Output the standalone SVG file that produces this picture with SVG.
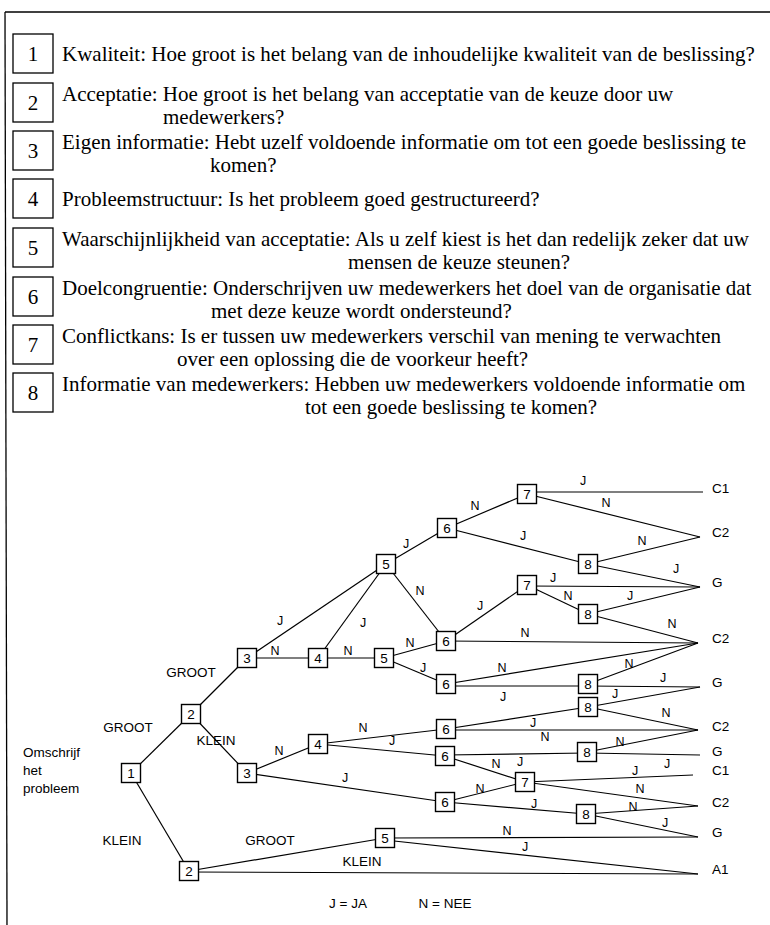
<svg xmlns="http://www.w3.org/2000/svg" width="770" height="925" viewBox="0 0 770 925">
<style>
.frame{stroke:#000;stroke-width:1.3;fill:none}
.qbox{fill:#fff;stroke:#000;stroke-width:1.3}
.qnum{font-family:"Liberation Serif","Times New Roman",serif;font-size:21px;text-anchor:middle;fill:#000}
.q{font-family:"Liberation Serif","Times New Roman",serif;font-size:21px;fill:#000}
.e{stroke:#000;stroke-width:1.2;fill:none}
.nb{fill:#fff;stroke:#000;stroke-width:1.4}
.nn{font-family:"Liberation Sans",Arial,sans-serif;font-size:13.5px;text-anchor:middle;fill:#000}
.lb{font-family:"Liberation Sans",Arial,sans-serif;font-size:12.5px;text-anchor:middle;fill:#000}
.wd{font-family:"Liberation Sans",Arial,sans-serif;font-size:13.5px;text-anchor:middle;fill:#000}
.big{font-family:"Liberation Sans",Arial,sans-serif;font-size:13.5px;fill:#000}
.out{font-family:"Liberation Sans",Arial,sans-serif;font-size:13.5px;fill:#000}
</style>
<rect width="770" height="925" fill="#fff"/>
<g id="frame">
<line class="frame" x1="5" y1="12" x2="770" y2="12"/>
<line class="frame" x1="5" y1="12" x2="7" y2="925"/>
</g>
<g id="questions">
<g id="q1"><rect class="qbox" x="13" y="34" width="40" height="39"/><text class="qnum" x="33" y="61">1</text>
<text class="q" x="62" y="61">Kwaliteit: Hoe groot is het belang van de inhoudelijke kwaliteit van de beslissing?</text></g>
<g id="q2"><rect class="qbox" x="13" y="83" width="40" height="39"/><text class="qnum" x="33" y="110">2</text>
<text class="q" x="62" y="101">Acceptatie: Hoe groot is het belang van acceptatie van de keuze door uw</text>
<text class="q" x="163" y="124">medewerkers?</text></g>
<g id="q3"><rect class="qbox" x="13" y="131" width="40" height="39"/><text class="qnum" x="33" y="158">3</text>
<text class="q" x="62" y="149">Eigen informatie: Hebt uzelf voldoende informatie om tot een goede beslissing te</text>
<text class="q" x="210" y="172">komen?</text></g>
<g id="q4"><rect class="qbox" x="13" y="179" width="40" height="39"/><text class="qnum" x="33" y="206">4</text>
<text class="q" x="62" y="206">Probleemstructuur: Is het probleem goed gestructureerd?</text></g>
<g id="q5"><rect class="qbox" x="13" y="228" width="40" height="39"/><text class="qnum" x="33" y="255">5</text>
<text class="q" x="62" y="246">Waarschijnlijkheid van acceptatie: Als u zelf kiest is het dan redelijk zeker dat uw</text>
<text class="q" x="348" y="269">mensen de keuze steunen?</text></g>
<g id="q6"><rect class="qbox" x="13" y="277" width="40" height="39"/><text class="qnum" x="33" y="304">6</text>
<text class="q" x="62" y="295">Doelcongruentie: Onderschrijven uw medewerkers het doel van de organisatie dat</text>
<text class="q" x="211" y="318">met deze keuze wordt ondersteund?</text></g>
<g id="q7"><rect class="qbox" x="13" y="325" width="40" height="39"/><text class="qnum" x="33" y="352">7</text>
<text class="q" x="62" y="343">Conflictkans: Is er tussen uw medewerkers verschil van mening te verwachten</text>
<text class="q" x="177" y="366">over een oplossing die de voorkeur heeft?</text></g>
<g id="q8"><rect class="qbox" x="13" y="373" width="40" height="39"/><text class="qnum" x="33" y="400">8</text>
<text class="q" x="62" y="391">Informatie van medewerkers: Hebben uw medewerkers voldoende informatie om</text>
<text class="q" x="305" y="414">tot een goede beslissing te komen?</text></g>
</g>
<g id="connectors">
<line class="e" x1="131" y1="773" x2="191" y2="714"/>
<line class="e" x1="131" y1="773" x2="189" y2="871"/>
<line class="e" x1="191" y1="714" x2="247" y2="658"/>
<line class="e" x1="191" y1="714" x2="247" y2="773"/>
<line class="e" x1="247" y1="658" x2="386" y2="564"/>
<line class="e" x1="247" y1="658" x2="318" y2="658"/>
<line class="e" x1="318" y1="658" x2="386" y2="564"/>
<line class="e" x1="318" y1="658" x2="384" y2="658"/>
<line class="e" x1="386" y1="564" x2="447" y2="528"/>
<line class="e" x1="386" y1="564" x2="446" y2="641"/>
<line class="e" x1="384" y1="658" x2="446" y2="641"/>
<line class="e" x1="384" y1="658" x2="446" y2="684"/>
<line class="e" x1="447" y1="528" x2="527" y2="494"/>
<line class="e" x1="447" y1="528" x2="588" y2="564"/>
<line class="e" x1="527" y1="492" x2="703" y2="492"/>
<line class="e" x1="527" y1="494" x2="700" y2="537"/>
<line class="e" x1="588" y1="564" x2="700" y2="537"/>
<line class="e" x1="588" y1="564" x2="700" y2="587"/>
<line class="e" x1="446" y1="641" x2="527" y2="585"/>
<line class="e" x1="446" y1="641" x2="698" y2="643"/>
<line class="e" x1="527" y1="586" x2="700" y2="587"/>
<line class="e" x1="527" y1="585" x2="588" y2="614"/>
<line class="e" x1="588" y1="614" x2="700" y2="587"/>
<line class="e" x1="588" y1="614" x2="698" y2="643"/>
<line class="e" x1="446" y1="684" x2="698" y2="643"/>
<line class="e" x1="446" y1="686" x2="588" y2="686"/>
<line class="e" x1="588" y1="684" x2="698" y2="643"/>
<line class="e" x1="588" y1="686" x2="700" y2="687"/>
<line class="e" x1="247" y1="773" x2="318" y2="744"/>
<line class="e" x1="247" y1="773" x2="445" y2="802"/>
<line class="e" x1="318" y1="744" x2="446" y2="729"/>
<line class="e" x1="318" y1="744" x2="445" y2="756"/>
<line class="e" x1="446" y1="729" x2="588" y2="707"/>
<line class="e" x1="446" y1="730" x2="698" y2="730"/>
<line class="e" x1="588" y1="707" x2="700" y2="687"/>
<line class="e" x1="588" y1="707" x2="698" y2="730"/>
<line class="e" x1="445" y1="755" x2="587" y2="753"/>
<line class="e" x1="445" y1="756" x2="525" y2="782"/>
<line class="e" x1="587" y1="752" x2="698" y2="730"/>
<line class="e" x1="587" y1="753" x2="700" y2="755"/>
<line class="e" x1="525" y1="782" x2="693" y2="775"/>
<line class="e" x1="525" y1="782" x2="698" y2="806"/>
<line class="e" x1="445" y1="802" x2="525" y2="782"/>
<line class="e" x1="445" y1="802" x2="586" y2="814"/>
<line class="e" x1="586" y1="814" x2="698" y2="806"/>
<line class="e" x1="586" y1="814" x2="698" y2="837"/>
<line class="e" x1="189" y1="871" x2="385" y2="838"/>
<line class="e" x1="189" y1="872" x2="698" y2="874"/>
<line class="e" x1="385" y1="838" x2="698" y2="837"/>
<line class="e" x1="385" y1="840" x2="698" y2="874"/>
</g>
<g id="edge-labels">
<text class="wd" x="128" y="732">GROOT</text>
<text class="wd" x="122" y="845">KLEIN</text>
<text class="wd" x="191" y="677">GROOT</text>
<text class="wd" x="216" y="745">KLEIN</text>
<text class="wd" x="270" y="845">GROOT</text>
<text class="wd" x="362" y="866">KLEIN</text>
<text class="lb" x="280" y="625">J</text>
<text class="lb" x="275" y="655">N</text>
<text class="lb" x="363" y="627">J</text>
<text class="lb" x="348" y="655">N</text>
<text class="lb" x="420" y="595">N</text>
<text class="lb" x="410" y="647">N</text>
<text class="lb" x="423" y="672">J</text>
<text class="lb" x="406" y="548">J</text>
<text class="lb" x="475" y="510">N</text>
<text class="lb" x="523" y="540">J</text>
<text class="lb" x="583" y="485">J</text>
<text class="lb" x="606" y="507">N</text>
<text class="lb" x="642" y="545">N</text>
<text class="lb" x="676" y="573">J</text>
<text class="lb" x="480" y="610">J</text>
<text class="lb" x="525" y="637">N</text>
<text class="lb" x="553" y="582">J</text>
<text class="lb" x="568" y="600">N</text>
<text class="lb" x="630" y="600">J</text>
<text class="lb" x="672" y="628">N</text>
<text class="lb" x="502" y="672">N</text>
<text class="lb" x="503" y="701">J</text>
<text class="lb" x="629" y="668">N</text>
<text class="lb" x="663" y="682">J</text>
<text class="lb" x="279" y="755">N</text>
<text class="lb" x="345" y="782">J</text>
<text class="lb" x="363" y="732">N</text>
<text class="lb" x="392" y="745">J</text>
<text class="lb" x="533" y="727">J</text>
<text class="lb" x="545" y="741">N</text>
<text class="lb" x="615" y="698">J</text>
<text class="lb" x="666" y="717">N</text>
<text class="lb" x="520" y="766">J</text>
<text class="lb" x="496" y="768">N</text>
<text class="lb" x="620" y="746">N</text>
<text class="lb" x="667" y="768">J</text>
<text class="lb" x="635" y="775">J</text>
<text class="lb" x="640" y="793">N</text>
<text class="lb" x="480" y="793">N</text>
<text class="lb" x="534" y="808">J</text>
<text class="lb" x="633" y="811">N</text>
<text class="lb" x="665" y="827">J</text>
<text class="lb" x="507" y="835">N</text>
<text class="lb" x="525" y="851">J</text>
</g>
<g id="start-label">
<text class="big" x="23" y="757">Omschrijf</text>
<text class="big" x="23" y="775">het</text>
<text class="big" x="23" y="793">probleem</text>
</g>
<g id="nodes">
<g id="n1"><rect class="nb" x="121.5" y="763.5" width="19" height="19"/><text class="nn" x="131" y="778">1</text></g>
<g id="n2a"><rect class="nb" x="181.5" y="704.5" width="19" height="19"/><text class="nn" x="191" y="719">2</text></g>
<g id="n2b"><rect class="nb" x="179.5" y="861.5" width="19" height="19"/><text class="nn" x="189" y="876">2</text></g>
<g id="n3a"><rect class="nb" x="237.5" y="648.5" width="19" height="19"/><text class="nn" x="247" y="663">3</text></g>
<g id="n3b"><rect class="nb" x="237.5" y="763.5" width="19" height="19"/><text class="nn" x="247" y="778">3</text></g>
<g id="n4a"><rect class="nb" x="308.5" y="648.5" width="19" height="19"/><text class="nn" x="318" y="663">4</text></g>
<g id="n4b"><rect class="nb" x="308.5" y="734.5" width="19" height="19"/><text class="nn" x="318" y="749">4</text></g>
<g id="n5a"><rect class="nb" x="376.5" y="554.5" width="19" height="19"/><text class="nn" x="386" y="569">5</text></g>
<g id="n5b"><rect class="nb" x="374.5" y="648.5" width="19" height="19"/><text class="nn" x="384" y="663">5</text></g>
<g id="n5c"><rect class="nb" x="375.5" y="828.5" width="19" height="19"/><text class="nn" x="385" y="843">5</text></g>
<g id="n6a"><rect class="nb" x="437.5" y="518.5" width="19" height="19"/><text class="nn" x="447" y="533">6</text></g>
<g id="n6b"><rect class="nb" x="436.5" y="631.5" width="19" height="19"/><text class="nn" x="446" y="646">6</text></g>
<g id="n6c"><rect class="nb" x="436.5" y="674.5" width="19" height="19"/><text class="nn" x="446" y="689">6</text></g>
<g id="n6d"><rect class="nb" x="436.5" y="719.5" width="19" height="19"/><text class="nn" x="446" y="734">6</text></g>
<g id="n6e"><rect class="nb" x="435.5" y="746.5" width="19" height="19"/><text class="nn" x="445" y="761">6</text></g>
<g id="n6f"><rect class="nb" x="435.5" y="792.5" width="19" height="19"/><text class="nn" x="445" y="807">6</text></g>
<g id="n7a"><rect class="nb" x="517.5" y="484.5" width="19" height="19"/><text class="nn" x="527" y="499">7</text></g>
<g id="n7b"><rect class="nb" x="517.5" y="575.5" width="19" height="19"/><text class="nn" x="527" y="590">7</text></g>
<g id="n7c"><rect class="nb" x="515.5" y="772.5" width="19" height="19"/><text class="nn" x="525" y="787">7</text></g>
<g id="n8a"><rect class="nb" x="578.5" y="554.5" width="19" height="19"/><text class="nn" x="588" y="569">8</text></g>
<g id="n8b"><rect class="nb" x="578.5" y="604.5" width="19" height="19"/><text class="nn" x="588" y="619">8</text></g>
<g id="n8c"><rect class="nb" x="578.5" y="674.5" width="19" height="19"/><text class="nn" x="588" y="689">8</text></g>
<g id="n8d"><rect class="nb" x="578.5" y="697.5" width="19" height="19"/><text class="nn" x="588" y="712">8</text></g>
<g id="n8e"><rect class="nb" x="577.5" y="742.5" width="19" height="19"/><text class="nn" x="587" y="757">8</text></g>
<g id="n8f"><rect class="nb" x="576.5" y="804.5" width="19" height="19"/><text class="nn" x="586" y="819">8</text></g>
</g>
<g id="outcomes">
<text id="o-c1a" class="out" x="712" y="493">C1</text>
<text id="o-c2a" class="out" x="712" y="537">C2</text>
<text id="o-ga" class="out" x="712" y="587">G</text>
<text id="o-c2b" class="out" x="712" y="643">C2</text>
<text id="o-gb" class="out" x="712" y="687">G</text>
<text id="o-c2c" class="out" x="712" y="731">C2</text>
<text id="o-gc" class="out" x="712" y="756">G</text>
<text id="o-c1b" class="out" x="712" y="775">C1</text>
<text id="o-c2d" class="out" x="712" y="807">C2</text>
<text id="o-gd" class="out" x="712" y="837">G</text>
<text id="o-a1" class="out" x="712" y="874">A1</text>
</g>
<g id="legend">
<text class="wd" x="348" y="908">J = JA</text>
<text class="wd" x="445" y="908">N = NEE</text>
</g>
</svg>
